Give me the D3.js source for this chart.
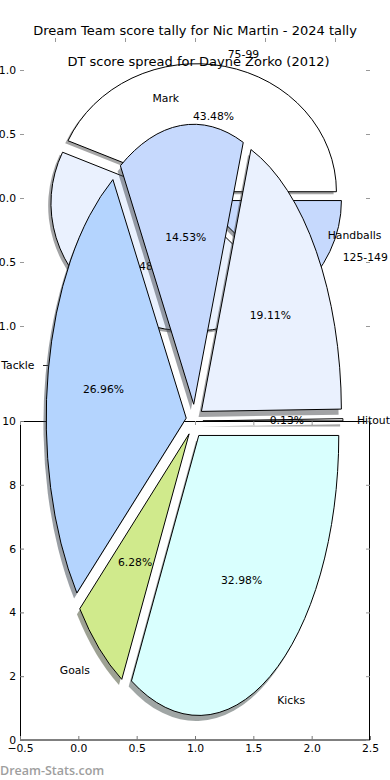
<!DOCTYPE html>
<html><head><meta charset="utf-8">
<script src="https://cdn.jsdelivr.net/npm/d3@7"></script>
<style>
body{margin:0;background:#fff}
svg{display:block}
text{font-family:"DejaVu Sans",sans-serif;fill:#000}
</style>
</head><body>
<svg id="chart" width="390" height="780"></svg>
<script>
// ---------------- data ----------------
const bigTitle = "Dream Team score tally for Nic Martin - 2024 tally";
const bigCategories = ["Hitout", "Handballs", "Mark", "Tackle", "Goals", "Kicks"];
const bigValues = [0.13, 19.11, 14.53, 26.96, 6.28, 32.98];

const oldTitle = "DT score spread for Dayne Zorko (2012)";
const oldCategories = ["75-99", "100-124", "125-149"];
const oldValues = [10, 10, 3];

const upperTicks = [-1, -0.5, 0, 0.5, 1];
const lowerXTicks = [-0.5, 0, 0.5, 1, 1.5, 2, 2.5];
const lowerYTicks = [0, 2, 4, 6, 8, 10];
const footerText = "Dream-Stats.com";

// ---------------- styles ----------------
const palette = ["#ffffff", "#eaf1fe", "#c6d9fd", "#b4d4fe", "#d0ea8c", "#d9fffe"];
const bigExplode = 0.06, oldExplode = 0.05;
const labelFont = 10.8, titleFont = 13;

const svg = d3.select("#chart");

// scales
const upperX = d3.scaleLinear().domain([-1.25, 1.25]).range([20, 370]);
const upperY = d3.scaleLinear().domain([-1.25, 1.25]).range([358, 38]);
const bigX = d3.scaleLinear().domain([-1.25, 1.25]).range([19.5, 369.5]);
const bigY = d3.scaleLinear().domain([-1, 1]).range([701, 141]);
const lowerX = d3.scaleLinear().domain([-0.5, 2.5]).range([20, 370]);
const lowerY = d3.scaleLinear().domain([0, 10]).range([740, 421]);

function styleAxis(g, color) {
  g.select(".domain").remove();
  g.selectAll(".tick line").attr("stroke", color);
  g.selectAll(".tick text").attr("font-size", labelFont).attr("font-family", "DejaVu Sans").attr("fill", "#000");
}

// ---------------- upper axes (ticks only) ----------------
const upperAx = svg.append("g");
upperAx.append("g").attr("transform", `translate(20,0)`)
  .call(d3.axisLeft(upperY).tickValues(upperTicks).tickSize(-4).tickPadding(4).tickFormat(d3.format(".1f")))
  .call(g => styleAxis(g, "#999"));
upperAx.append("g").attr("transform", `translate(370,0)`)
  .call(d3.axisRight(upperY).tickValues(upperTicks).tickSize(-4).tickFormat(""))
  .call(g => styleAxis(g, "#999"));
upperAx.append("g").attr("transform", `translate(0,38)`)
  .call(d3.axisTop(upperX).tickValues(upperTicks).tickSize(-4).tickFormat(""))
  .call(g => styleAxis(g, "#999"));

// ---------------- pie drawing ----------------
function drawPie(parent, values, labels, xs, ys, explode, pctOf) {
  const g = parent.append("g");
  const pie = d3.pie().sort(null).startAngle(Math.PI / 2).endAngle(Math.PI / 2 - 2 * Math.PI);
  const arcs = pie(values);
  const R = 100;
  const arc = d3.arc().innerRadius(0).outerRadius(R);
  const kx = (xs(1) - xs(0)) / R, ky = (ys(0) - ys(1)) / R;
  arcs.forEach((a, i) => {
    const theta = Math.PI / 2 - (a.startAngle + a.endAngle) / 2;
    a.c = Math.cos(theta); a.s = Math.sin(theta);
    a.ox = explode * a.c; a.oy = explode * a.s;
    a.color = palette[i % palette.length];
  });
  g.append("g").selectAll("path").data(arcs).join("path")
    .attr("d", arc)
    .attr("transform", a => `translate(${xs(a.ox - 0.02)},${ys(a.oy - 0.02)}) scale(${kx},${ky})`)
    .attr("fill", a => { const c = d3.rgb(a.color); return d3.rgb(c.r * 0.3, c.g * 0.3, c.b * 0.3).formatHex(); })
    .attr("fill-opacity", 0.5);
  g.append("g").selectAll("path").data(arcs).join("path")
    .attr("d", arc)
    .attr("transform", a => `translate(${xs(a.ox)},${ys(a.oy)}) scale(${kx},${ky})`)
    .attr("fill", a => a.color)
    .attr("stroke", "#000")
    .attr("stroke-width", 1)
    .attr("vector-effect", "non-scaling-stroke")
    .attr("stroke-linejoin", "miter");
  const tg = g.append("g").attr("font-size", labelFont);
  tg.selectAll("text.lab").data(arcs).join("text").attr("class", "lab")
    .attr("x", a => xs(a.ox + 1.1 * a.c))
    .attr("y", a => ys(a.oy + 1.1 * a.s))
    .attr("dy", "0.36em")
    .attr("text-anchor", a => (a.ox + 1.1 * a.c) > 0 ? "start" : "end")
    .text((a, i) => labels[i]);
  tg.selectAll("text.pct").data(arcs).join("text").attr("class", "pct")
    .attr("x", a => xs(a.ox + 0.6 * a.c))
    .attr("y", a => ys(a.oy + 0.6 * a.s))
    .attr("dy", "0.36em")
    .attr("text-anchor", "middle")
    .text(a => d3.format(".2f")(pctOf(a.value)) + "%");
  return g;
}

const oldTotal = d3.sum(oldValues);
drawPie(svg, oldValues, oldCategories, upperX, upperY, oldExplode, v => v / oldTotal * 100);

// ---------------- lower axes ----------------
const lowerAx = svg.append("g");
lowerAx.append("rect").attr("x", 20.5).attr("y", 421.5).attr("width", 349).attr("height", 318.5)
  .attr("fill", "none").attr("stroke", "#000").attr("stroke-width", 1);
lowerAx.append("g").attr("transform", `translate(0,740)`)
  .call(d3.axisBottom(lowerX).tickValues(lowerXTicks).tickSize(-4).tickPadding(4).tickFormat(d3.format(".1f")))
  .call(g => styleAxis(g, "#777"));
lowerAx.append("g").attr("transform", `translate(20,0)`)
  .call(d3.axisLeft(lowerY).tickValues(lowerYTicks).tickSize(-4).tickPadding(4).tickFormat(d3.format("d")))
  .call(g => styleAxis(g, "#777"));
lowerAx.append("g").attr("transform", `translate(0,421)`)
  .call(d3.axisTop(lowerX).tickValues(lowerXTicks).tickSize(-4).tickFormat(""))
  .call(g => styleAxis(g, "#999"));
lowerAx.append("g").attr("transform", `translate(370,0)`)
  .call(d3.axisRight(lowerY).tickValues(lowerYTicks).tickSize(-4).tickFormat(""))
  .call(g => styleAxis(g, "#999"));
// stray tick beside the Tackle label
svg.append("line").attr("x1", 43).attr("x2", 48).attr("y1", 365.5).attr("y2", 365.5).attr("stroke", "#222");

// ---------------- big pie ----------------
drawPie(svg, bigValues, bigCategories, bigX, bigY, bigExplode, v => v);

// ---------------- titles ----------------
svg.append("text").attr("x", 195).attr("y", 34.5).attr("text-anchor", "middle")
  .attr("font-size", titleFont).text(bigTitle);
svg.append("text").attr("x", 198.5).attr("y", 65.5).attr("text-anchor", "middle")
  .attr("font-size", titleFont).text(oldTitle);

// footer
svg.append("text").attr("x", 0).attr("y", 775).attr("font-size", 12.5)
  .style("font-family", "'Open Sans', sans-serif").attr("font-weight", 600)
  .style("fill", "#9e9e9e").text(footerText);
</script>
</body></html>
